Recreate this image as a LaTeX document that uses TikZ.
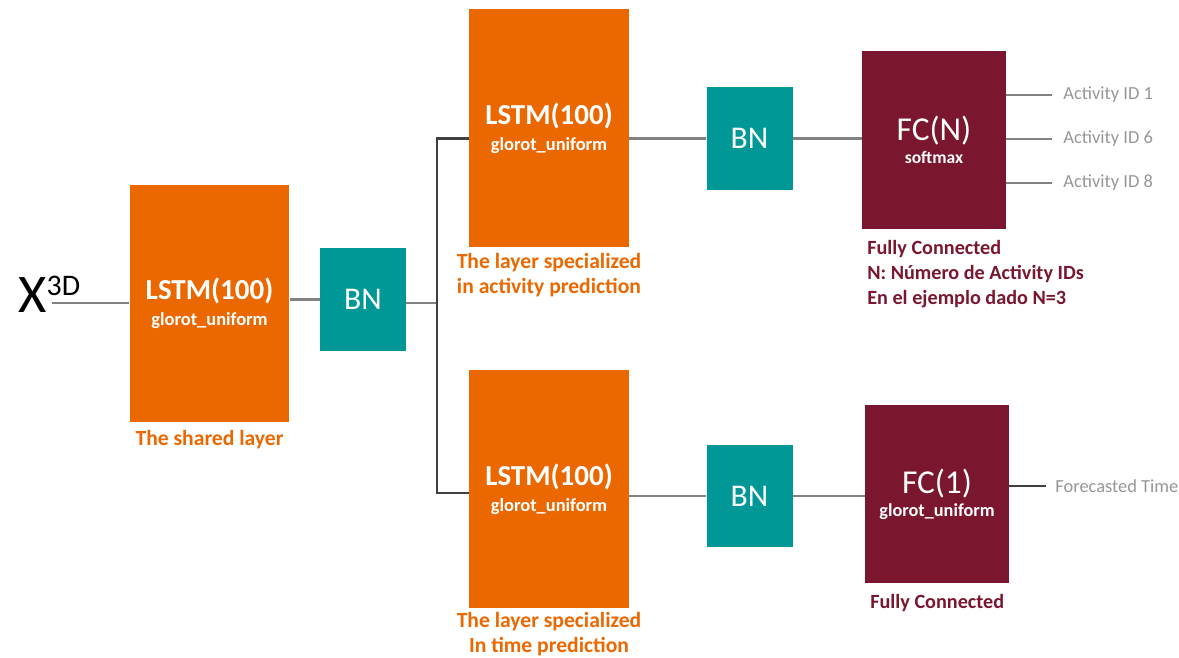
\documentclass[tikz,border=0pt]{standalone}
\usepackage{fontspec}
\setmainfont{Carlito}
\usetikzlibrary{positioning,calc}
\definecolor{lstmorange}{RGB}{235,104,0}
\definecolor{bnteal}{RGB}{0,151,151}
\definecolor{fcred}{RGB}{122,22,45}
\definecolor{linegrey}{RGB}{130,130,130}
\definecolor{labelgrey}{RGB}{150,150,150}

\begin{document}
\begin{tikzpicture}[x=0.02cm, y=-0.02cm,
    lstm/.style={rectangle, fill=lstmorange, text=white, align=center,
        minimum width=3.2cm, minimum height=4.76cm, inner sep=0pt},
    bnbox/.style={rectangle, fill=bnteal, text=white, inner sep=0pt,
        minimum width=1.72cm, minimum height=2.06cm,
        font=\fontsize{18}{20}\selectfont},
    fcbox/.style={rectangle, fill=fcred, text=white, align=center,
        minimum width=2.88cm, minimum height=3.56cm, inner sep=0pt},
    caporange/.style={text=lstmorange, align=center, inner sep=0pt,
        font=\fontsize{12.3}{14.5}\selectfont\bfseries},
    capred/.style={text=fcred, align=left, inner sep=0pt,
        font=\fontsize{11.5}{14.2}\selectfont\bfseries},
    outlabel/.style={text=labelgrey, inner sep=0pt, anchor=west,
        font=\fontsize{10.5}{12}\selectfont},
    conn/.style={draw=linegrey, line width=1.2pt},
    dconn/.style={draw=black!75, line width=1.2pt}
]
    \useasboundingbox (0,0) rectangle (1179,658);

    % input
    \node[inner sep=0pt, anchor=base west] (xin) at (18,313)
        {\fontsize{31}{31}\selectfont X\raisebox{10pt}{\fontsize{17}{17}\selectfont 3D}};
    \coordinate (xtail) at (52,303);

    % shared layer
    \node[lstm] (lstm0) at (209.5,303.5)
        {\fontsize{16.5}{18}\selectfont\bfseries LSTM(100)\\[3pt]
         \fontsize{10.5}{11}\selectfont\bfseries glorot\_uniform};
    \node[caporange, below=4pt of lstm0] (cap0) {The shared layer};
    \node[bnbox] (bn0) at (363,299.5) {BN};

    % branch point
    \coordinate (split) at (437,303);

    % activity branch
    \node[lstm] (lstm1) at (549,128)
        {\fontsize{16.5}{18}\selectfont\bfseries LSTM(100)\\[3pt]
         \fontsize{10.5}{11}\selectfont\bfseries glorot\_uniform};
    \node[caporange, below=3pt of lstm1] (cap1)
        {The layer specialized\\in activity prediction};
    \node[bnbox] (bn1) at (749.5,138.5) {BN};
    \node[fcbox] (fc1) at (934,140)
        {\fontsize{19}{22}\selectfont FC(N)\\[1pt]
         \fontsize{10}{11}\selectfont\bfseries softmax};
    \node[capred, anchor=north west] (cap3) at ([xshift=3pt,yshift=-6pt]fc1.south west)
        {Fully Connected\\N: Número de Activity IDs\\En el ejemplo dado N=3};

    \node[outlabel] (act1) at (1063,95) {Activity ID 1};
    \node[outlabel] (act6) at (1063,139) {Activity ID 6};
    \node[outlabel] (act8) at (1063,183) {Activity ID 8};

    % time branch
    \node[lstm] (lstm2) at (549,489)
        {\fontsize{16.5}{18}\selectfont\bfseries LSTM(100)\\[3pt]
         \fontsize{10.5}{11}\selectfont\bfseries glorot\_uniform};
    \node[caporange, below=2pt of lstm2] (cap2)
        {The layer specialized\\In time prediction};
    \node[bnbox] (bn2) at (749.5,496) {BN};
    \node[fcbox] (fc2) at (937,494)
        {\fontsize{19}{22}\selectfont FC(1)\\[1pt]
         \fontsize{10.4}{11}\selectfont\bfseries glorot\_uniform};
    \node[capred, anchor=north west] (cap4) at ([xshift=3pt,yshift=-6pt]fc2.south west)
        {Fully Connected};
    \node[outlabel] (tout) at (1055,486) {Forecasted Time};

    % connectors
    \draw[conn] (xtail) -- (xtail -| lstm0.west);
    \draw[conn] (lstm0.east |- bn0) -- (bn0);
    \draw[conn] (bn0.east |- split) -- (split);
    \draw[dconn] (split) |- (lstm1.west |- bn1);
    \draw[dconn] (split) |- (lstm2.west |- 0,493);
    \draw[conn] (lstm1.east |- bn1) -- (bn1);
    \draw[conn] (lstm2.east |- bn2) -- (bn2);
    \draw[conn] (bn1.east) -- (bn1.east -| fc1.west);
    \draw[conn] (bn2.east) -- (bn2.east -| fc2.west);
    \draw[conn] (fc1.east |- act1) -- ([xshift=-6pt]act1.west);
    \draw[conn] (fc1.east |- act6) -- ([xshift=-6pt]act6.west);
    \draw[conn] (fc1.east |- act8) -- ([xshift=-6pt]act8.west);
    \draw[dconn] (fc2.east |- tout) -- ([xshift=-5pt]tout.west);
\end{tikzpicture}
\end{document}
